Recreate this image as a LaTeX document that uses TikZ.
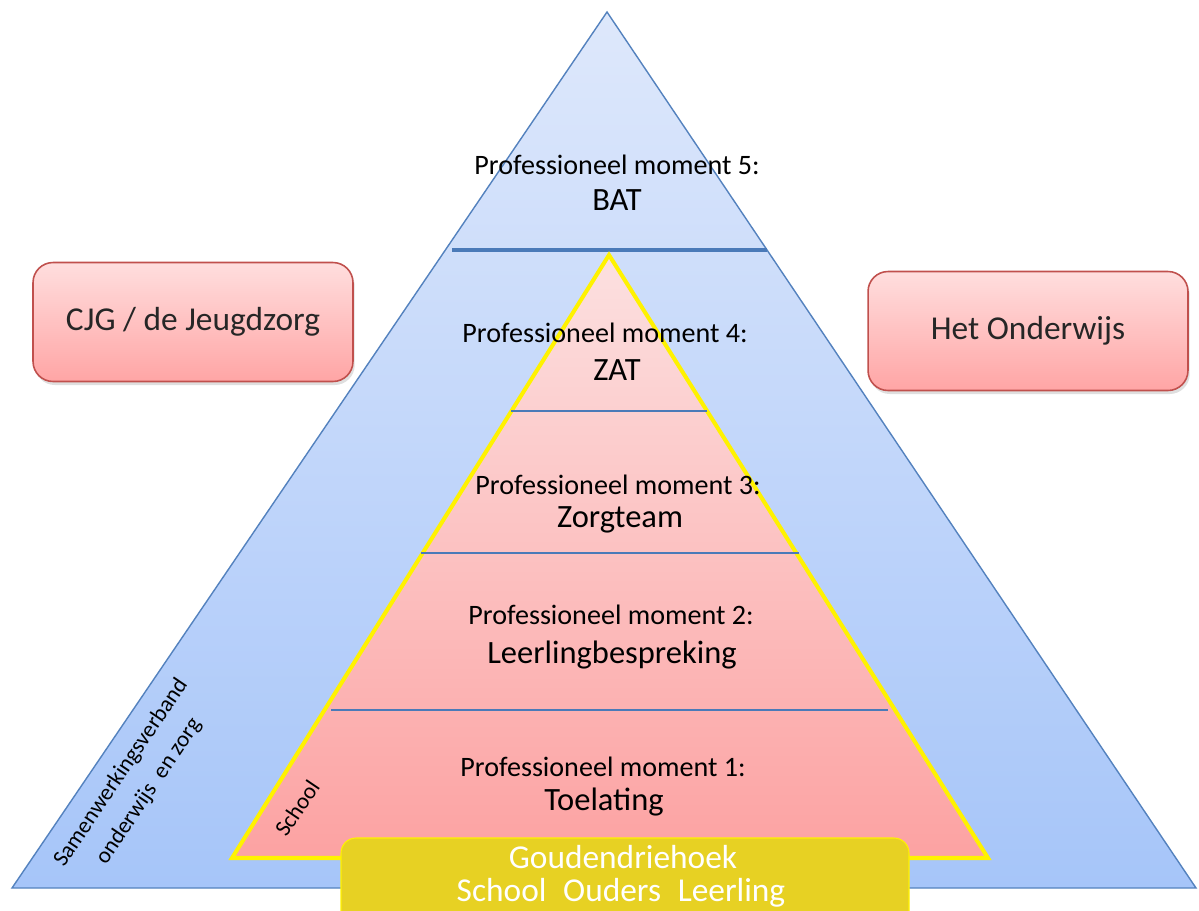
\documentclass[tikz,border=0pt]{standalone}
\usepackage{fontspec}
\setmainfont{Carlito}
\usetikzlibrary{shadows}
\definecolor{pyrtop}{RGB}{222,232,251}
\definecolor{pyrbottom}{RGB}{166,197,249}
\definecolor{pyredge}{RGB}{84,130,190}
\definecolor{divblue}{RGB}{74,122,184}
\definecolor{schooltop}{RGB}{252,224,224}
\definecolor{schoolbottom}{RGB}{252,162,162}
\definecolor{boxtop}{RGB}{255,222,222}
\definecolor{boxbottom}{RGB}{255,165,165}
\definecolor{boxred}{RGB}{192,80,77}
\definecolor{gold}{RGB}{231,209,35}

\begin{document}
\begin{tikzpicture}[x=0.02cm,y=-0.02cm,
    moment/.style={font=\fontsize{16}{18}\selectfont, inner sep=0pt},
    level/.style={font=\fontsize{18.5}{20}\selectfont, inner sep=0pt},
    sidebox/.style={draw=boxred, line width=0.9pt, rounded corners=0.4cm,
        top color=boxtop, bottom color=boxbottom, text=black!85,
        minimum width=6.4cm, minimum height=2.38cm,
        font=\fontsize{19}{21}\selectfont,
        drop shadow={opacity=0.25, shadow xshift=1pt, shadow yshift=-2pt}},
    divider/.style={draw=divblue, line width=1.1pt},
    slanted/.style={rotate=56, inner sep=0pt, align=center},
    goldtext/.style={text=white, font=\fontsize{19}{21}\selectfont, inner sep=0pt}]
    \clip (0,0) rectangle (1199,910);

    \shade [top color=pyrtop, bottom color=pyrbottom] (607,12) -- (1196,888) -- (12,888) -- cycle;
    \draw [pyredge, line width=0.8pt] (607,12) -- (1196,888) -- (12,888) -- cycle;
    \draw [divider, line width=1.8pt] (452,250) -- (767,250);

    \shade [top color=schooltop, bottom color=schoolbottom] (609,255) -- (988,858) -- (232,858) -- cycle;
    \draw [yellow, line width=2.3pt, line join=miter] (609,255) -- (988,858) -- (232,858) -- cycle;
    \draw [divider] (511,411) -- (707,411);
    \draw [divider] (421,553) -- (799,553);
    \draw [divider] (331,710) -- (888,710);

    \node [moment] (m5) at (617,165) {Professioneel moment 5:};
    \node [level] (bat) at (617,200) {BAT};
    \node [moment] (m4) at (605,333) {Professioneel moment 4:};
    \node [level] (zat) at (617,370) {ZAT};
    \node [moment] (m3) at (618,485) {Professioneel moment 3:};
    \node [level] (zorgteam) at (620,520) {Zorgteam};
    \node [moment] (m2) at (611,615) {Professioneel moment 2:};
    \node [level] (bespreking) at (612,655) {Leerlingbespreking};
    \node [moment] (m1) at (603,767) {Professioneel moment 1:};
    \node [level] (toelating) at (604,802) {Toelating};

    \node [sidebox] (cjg) at (193,322) {CJG / de Jeugdzorg};
    \node [sidebox] (onderwijs) at (1028,331) {Het Onderwijs};

    \node [slanted, font=\fontsize{13}{19}\selectfont] (swv) at (135,782) {Samenwerkingsverband\\onderwijs\enspace en zorg};
    \node [slanted, font=\fontsize{13}{15}\selectfont] (school) at (297,808) {School};

    \draw [yellow, line width=0.6pt, fill=gold, rounded corners=0.3cm] (341,838) rectangle (909,940);
    \node [goldtext] (gouden) at (623,857) {Goudendriehoek};
    \node [goldtext] (trio) at (621,893) {School\enspace Ouders\enspace Leerling};
\end{tikzpicture}
\end{document}
